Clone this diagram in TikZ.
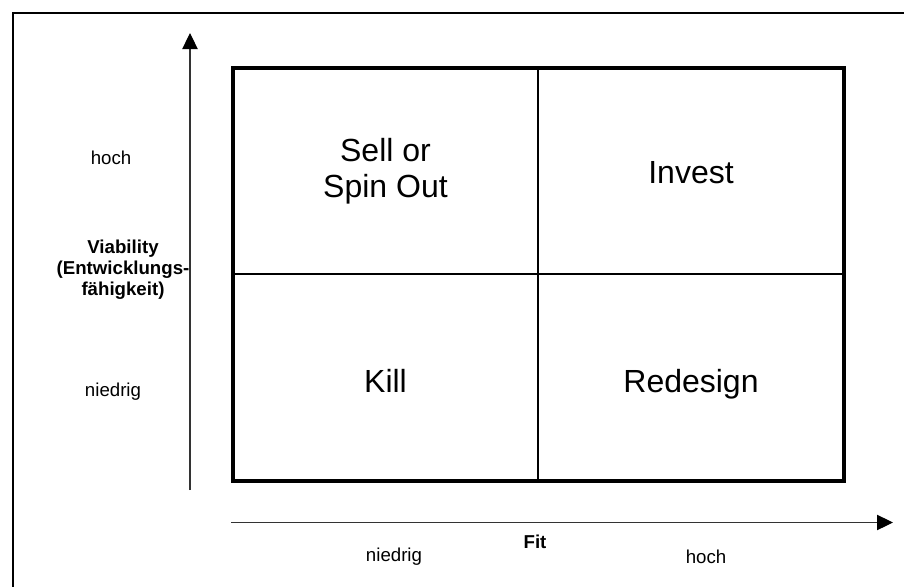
\documentclass[tikz,border=0pt]{standalone}
\usepackage{fontspec}
\setmainfont{Liberation Sans}
\usetikzlibrary{arrows.meta}
\begin{document}
\begin{tikzpicture}[x=0.75pt,y=-0.75pt,
        axis/.style={black!80,line width=0.8pt,-{Triangle[length=12pt,width=11.5pt,color=black,fill=black]}},
        quad/.style={align=center,font=\fontsize{24}{27}\selectfont},
        lbl/.style={font=\fontsize{14}{15.75}\selectfont},
        bold lbl/.style={align=center,font=\fontsize{14}{15.75}\selectfont\bfseries}]
    \useasboundingbox (0,0) rectangle (904,586);
    \clip (0,0) rectangle (904,586);
    %% frame
    \draw[line width=1.5pt] (13,13) rectangle (930,610);
    %% matrix
    \coordinate (nw) at (233,67.5);
    \coordinate (se) at (844,481);
    \coordinate (mtop) at (538,67.5);
    \coordinate (mbot) at (538,481);
    \coordinate (mleft) at (233,274);
    \coordinate (mright) at (844,274);
    \draw[line width=1.5pt] (mtop) -- (mbot);
    \draw[line width=1.5pt] (mleft) -- (mright);
    \draw[line width=3pt] (nw) rectangle (se);
    %% quadrants
    \node[quad] (sell) at (385.5,171) {Sell or\\Spin Out};
    \node[quad,anchor=base] (invest) at (691,183) {Invest};
    \node[quad,anchor=base] (kill) at (385.5,392) {Kill};
    \node[quad,anchor=base] (redesign) at (691,392) {Redesign};
    %% axes
    \coordinate (ybot) at (190,490);
    \coordinate (ytop) at (190,33);
    \coordinate (xleft) at (231,522.5);
    \coordinate (xright) at (893,522.5);
    \draw[axis] (ybot) -- (ytop);
    \draw[axis] (xleft) -- (xright);
    %% labels
    \node[lbl] (yhigh) at (111,158) {hoch};
    \node[bold lbl] (ytitle) at (123,270) {Viability\\(Entwicklungs-\\fähigkeit)};
    \node[lbl] (ylow) at (113,392) {niedrig};
    \node[bold lbl] (xtitle) at (535,542) {Fit};
    \node[lbl] (xlow) at (394,557) {niedrig};
    \node[lbl] (xhigh) at (706,557) {hoch};
\end{tikzpicture}
\end{document}
